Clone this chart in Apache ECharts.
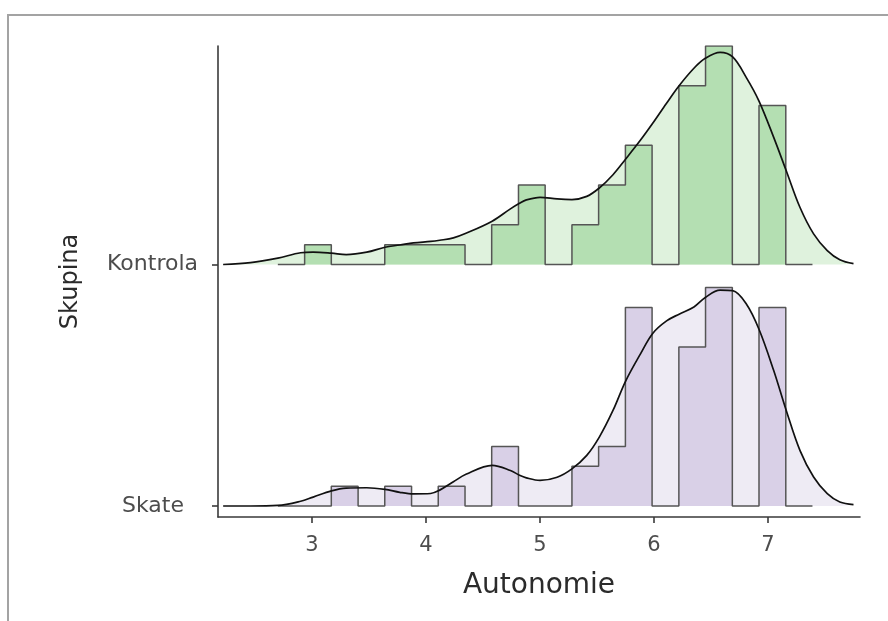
<!DOCTYPE html>
<html>
<head>
<meta charset="utf-8">
<script src="https://cdn.jsdelivr.net/npm/echarts@6/dist/echarts.min.js"></script>
<style>
html, body { margin: 0; padding: 0; background: #fff; }
#graph { width: 888px; height: 621px; }
</style>
</head>
<body>
<div id="graph"></div>
<script>
// groups, bottom to top, and the height offset of each ridge baseline
var groups = ['Skate', 'Kontrola'];
var ridgeOffsets = [0, 12.16];

// histogram bin edges (Autonomie) and counts per bin
var binEdges = [2.700, 2.935, 3.169, 3.404, 3.638, 3.873, 4.107, 4.342, 4.576, 4.811,
    5.045, 5.280, 5.514, 5.749, 5.983, 6.218, 6.452, 6.687, 6.921, 7.156, 7.390];
var countsSkate = [0, 0, 1, 0, 1, 0, 1, 0, 3, 0, 0, 2, 3, 10, 0, 8, 11, 0, 10, 0];
var countsKontrola = [0, 1, 0, 0, 1, 1, 1, 0, 2, 4, 0, 2, 4, 6, 0, 9, 11, 0, 8, 0];

// density curves (same height units as the counts)
var densityX = [2.22, 2.46, 2.70, 2.90, 3.01, 3.17, 3.30, 3.48, 3.64, 3.77, 3.89, 4.04, 4.12,
    4.24, 4.35, 4.58, 4.74, 4.82, 4.88, 5.00, 5.15, 5.28, 5.41, 5.52, 5.64, 5.75, 5.88, 5.99,
    6.11, 6.22, 6.35, 6.45, 6.58, 6.69, 6.81, 6.92, 7.05, 7.16, 7.28, 7.40, 7.52, 7.63, 7.75];
var densitySkate = [0, 0, 0.03, 0.24, 0.45, 0.76, 0.90, 0.92, 0.84, 0.69, 0.61, 0.63, 0.80,
    1.22, 1.60, 2.05, 1.79, 1.55, 1.42, 1.29, 1.45, 1.87, 2.55, 3.47, 4.81, 6.28, 7.65, 8.70,
    9.32, 9.66, 10.02, 10.50, 10.87, 10.84, 10.17, 8.91, 6.82, 4.81, 2.80, 1.46, 0.62, 0.20, 0.07];
var densityKontrola = [0, 0.09, 0.32, 0.59, 0.62, 0.57, 0.50, 0.62, 0.87, 0.98, 1.09, 1.16, 1.22,
    1.34, 1.57, 2.18, 2.80, 3.08, 3.25, 3.38, 3.30, 3.27, 3.43, 3.85, 4.52, 5.30, 6.25, 7.12,
    8.12, 9.00, 9.88, 10.38, 10.68, 10.45, 9.41, 8.24, 6.40, 4.72, 2.88, 1.54, 0.70, 0.24, 0.04];

var xTicks = [3, 4, 5, 6, 7];

var colors = {
    Skate: { bar: '#d9d0e7', light: '#eeebf4' },
    Kontrola: { bar: '#b4dfb2', light: '#dff2dd' }
};

var dom = document.getElementById('graph');
var chart = echarts.init(dom);

function histLine(counts, off) {
    return binEdges.map(function (e, k) {
        return [e, (k < counts.length ? counts[k] : 0) + off];
    });
}

function densLine(h, off) {
    return densityX.map(function (x, i) {
        return [x, h[i] + off];
    });
}

var series = [];
[[countsSkate, densitySkate], [countsKontrola, densityKontrola]].forEach(function (d, g) {
    var name = groups[g];
    var off = ridgeOffsets[g];
    series.push({
        name: name + ' density fill',
        type: 'line',
        data: densLine(d[1], off),
        smooth: 0.35,
        showSymbol: false,
        silent: true,
        z: 1,
        lineStyle: { width: 0, opacity: 0 },
        areaStyle: { color: colors[name].light, opacity: 1, origin: off }
    });
    series.push({
        name: name + ' histogram',
        type: 'line',
        step: 'end',
        data: histLine(d[0], off),
        showSymbol: false,
        silent: true,
        z: 2,
        lineStyle: { color: '#555', width: 1.5 },
        areaStyle: { color: colors[name].bar, opacity: 1, origin: off }
    });
    series.push({
        name: name + ' density',
        type: 'line',
        data: densLine(d[1], off),
        smooth: 0.35,
        showSymbol: false,
        silent: true,
        z: 3,
        lineStyle: { color: '#111', width: 1.7 }
    });
});

chart.setOption({
    animation: false,
    textStyle: { fontFamily: 'DejaVu Sans' },
    grid: { left: 218, right: 28, top: 46, bottom: 104, containLabel: false },
    xAxis: {
        type: 'value',
        min: 2.175,
        max: 7.807,
        name: 'Autonomie',
        nameLocation: 'middle',
        nameGap: 55,
        nameTextStyle: { fontSize: 28, color: '#2b2b2b', fontFamily: 'DejaVu Sans' },
        splitLine: { show: false },
        axisLine: { onZero: false, lineStyle: { color: '#3a3a3a', width: 1.6 } },
        axisTick: { customValues: xTicks, length: 6, lineStyle: { color: '#3a3a3a', width: 1.6 } },
        axisLabel: { customValues: xTicks, margin: 18, fontSize: 21, color: '#4d4d4d', fontFamily: 'DejaVu Sans' }
    },
    yAxis: {
        type: 'value',
        min: -0.553,
        max: 23.16,
        name: 'Skupina',
        nameLocation: 'middle',
        nameRotate: 90,
        nameGap: 135,
        nameTextStyle: { fontSize: 24, color: '#2b2b2b', fontFamily: 'DejaVu Sans' },
        splitLine: { show: false },
        axisLine: { lineStyle: { color: '#3a3a3a', width: 1.6 } },
        axisTick: { customValues: ridgeOffsets, length: 6, lineStyle: { color: '#3a3a3a', width: 1.6 } },
        axisLabel: {
            customValues: ridgeOffsets,
            margin: 20,
            fontSize: 22,
            color: '#4d4d4d',
            fontFamily: 'DejaVu Sans',
            formatter: function (v) {
                var i = ridgeOffsets.indexOf(v);
                return i === 0 ? '{s|' + groups[i] + '}' : groups[i];
            },
            rich: { s: { fontSize: 22, color: '#4d4d4d', fontFamily: 'DejaVu Sans', padding: [0, 14, 0, 0] } }
        }
    },
    graphic: [{
        type: 'polyline',
        silent: true,
        shape: { points: [[8, 621], [8, 15], [888, 15]] },
        style: { fill: null, stroke: '#a3a3a3', lineWidth: 2 }
    }],
    series: series
});
</script>
</body>
</html>
